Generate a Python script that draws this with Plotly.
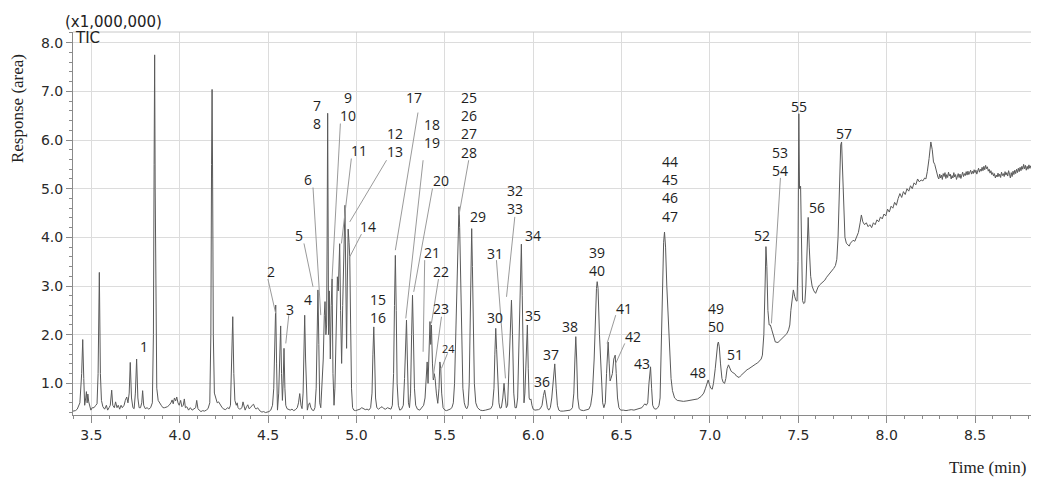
import plotly.graph_objects as go

# ---------------- data (time in min, response in x1,000,000) ----------------
seg_a = [(3.396,0.43),(3.41,0.44),(3.42,0.47),(3.435,0.6),(3.445,1.2),(3.451,1.90),(3.457,1.1),(3.462,0.55),
 (3.468,0.7),(3.472,0.83),(3.476,0.6),(3.48,0.78),(3.485,0.62),(3.49,0.55),(3.497,0.45),(3.505,0.5),(3.515,0.5),
 (3.525,0.55),(3.532,0.58),(3.538,1.2),(3.545,3.28),(3.551,1.2),(3.557,0.65),(3.565,0.52),(3.575,0.47),(3.585,0.55),
 (3.592,0.45),(3.60,0.5),(3.607,0.55),(3.615,0.86),(3.621,0.55),(3.63,0.5),(3.637,0.62),(3.645,0.5),(3.652,0.55),
 (3.66,0.47),(3.668,0.55),(3.675,0.5),(3.685,0.55),(3.692,0.65),(3.70,0.72),(3.707,0.6),(3.714,0.8),(3.72,1.43),
 (3.727,0.7),(3.735,0.5),(3.742,0.48),(3.749,0.8),(3.756,1.50),(3.763,0.7),(3.77,0.5),(3.778,0.5),(3.785,0.6),
 (3.79,0.85),(3.796,0.55),(3.805,0.48),(3.815,0.5),(3.825,0.47),(3.835,0.5),(3.845,0.6),(3.851,2.0),(3.855,5.5),
 (3.858,7.75),(3.861,5.0),(3.865,2.2),(3.87,0.9),(3.878,0.65),(3.885,0.6),(3.895,0.55),(3.905,0.5),(3.915,0.5)]

seg_b = [(3.93,0.52),(3.94,0.55),(3.95,0.6),(3.957,0.66),(3.963,0.58),(3.97,0.7),(3.977,0.64),(3.983,0.72),
 (3.99,0.6),(3.997,0.55),(4.005,0.65),(4.012,0.52),(4.02,0.55),(4.026,0.68),(4.032,0.5),(4.04,0.52),(4.05,0.45),
 (4.06,0.5),(4.07,0.45),(4.08,0.47),(4.09,0.5),(4.096,0.65),(4.103,0.48),(4.11,0.45),(4.12,0.42),(4.13,0.44),
 (4.14,0.43),(4.15,0.45),(4.16,0.48),(4.17,0.6),(4.176,2.0),(4.18,5.5),(4.183,7.04),(4.186,5.2),(4.19,2.0),
 (4.196,0.8),(4.205,0.65),(4.212,0.6),(4.22,0.62),(4.23,0.55),(4.24,0.5),(4.25,0.47),(4.26,0.46),(4.27,0.5),
 (4.28,0.48),(4.287,0.55),(4.293,1.2),(4.30,2.37),(4.306,1.2),(4.312,0.65),(4.32,0.55),(4.325,0.6),(4.33,0.5),
 (4.338,0.47),(4.345,0.48),(4.352,0.5),(4.358,0.62),(4.364,0.5),(4.37,0.45),(4.378,0.52),(4.385,0.56),(4.392,0.48),
 (4.40,0.5),(4.41,0.55),(4.418,0.57),(4.425,0.5),(4.433,0.47),(4.44,0.5),(4.448,0.45),(4.455,0.43),(4.465,0.41),
 (4.475,0.42),(4.485,0.4),(4.495,0.41),(4.505,0.42),(4.515,0.45),(4.525,0.55)]

seg_c = [(4.532,0.9),(4.538,2.3),(4.543,2.61),(4.548,1.4),(4.553,0.45),(4.56,0.8),(4.566,1.8),(4.571,2.18),
 (4.576,1.2),(4.581,0.65),(4.585,1.0),(4.590,1.72),(4.595,0.9),(4.60,0.55),(4.607,0.48),(4.615,0.47),(4.625,0.45),
 (4.635,0.47),(4.645,0.44),(4.655,0.46),(4.665,0.5),(4.672,0.6),(4.679,0.79),(4.686,0.55),(4.692,0.48),(4.698,0.8),
 (4.703,1.9),(4.707,2.40),(4.712,1.5),(4.717,0.6),(4.722,0.45),(4.728,0.55),(4.735,0.6),(4.742,0.5),(4.75,0.45),
 (4.758,0.44),(4.765,0.5),(4.772,0.9),(4.778,2.3),(4.782,2.92),(4.787,1.8),(4.792,0.6),(4.798,0.5),(4.805,0.9),
 (4.812,1.5),(4.818,2.4),(4.822,2.68),(4.827,2.0),(4.831,2.2),(4.834,4.0),(4.837,6.55),(4.840,4.0),(4.842,2.0),
 (4.846,2.9),(4.852,1.5),(4.857,2.6),(4.862,3.15),(4.867,1.2),(4.873,0.55),(4.878,0.9),(4.885,2.4),(4.892,3.19),
 (4.897,2.9),(4.901,3.5),(4.905,3.87),(4.91,2.5),(4.916,1.41),(4.922,2.6),(4.928,4.0),(4.935,4.66),(4.94,3.0),
 (4.944,1.72),(4.948,3.0),(4.953,4.17),(4.958,3.9),(4.962,3.6),(4.967,2.2),(4.972,0.9),(4.978,0.5),(4.985,0.45),
 (4.995,0.44)]

seg_d = [(5.01,0.45),(5.02,0.47),(5.03,0.5),(5.04,0.48),(5.05,0.46),(5.06,0.47),(5.07,0.45),(5.08,0.5),
 (5.088,0.8),(5.093,1.6),(5.098,2.16),(5.103,1.5),(5.108,0.7),(5.115,0.5),(5.125,0.47),(5.135,0.5),(5.145,0.52),
 (5.155,0.48),(5.165,0.47),(5.175,0.5),(5.185,0.48),(5.195,0.47),(5.203,0.55),(5.21,1.2),(5.215,2.6),(5.22,3.63),
 (5.225,2.5),(5.23,1.0),(5.237,0.55),(5.245,0.45),(5.255,0.47),(5.265,0.55),(5.272,1.1),(5.278,2.0),(5.283,2.3),
 (5.288,1.5),(5.294,0.6),(5.30,0.5),(5.306,0.8),(5.312,2.0),(5.317,2.81),(5.322,2.0),(5.328,0.9),(5.335,0.55),
 (5.345,0.47),(5.358,0.45),(5.37,0.5),(5.38,0.55),(5.388,0.7),(5.395,1.1),(5.40,1.44),(5.405,1.0),(5.41,1.5),
 (5.416,2.27),(5.42,1.8),(5.424,2.2),(5.43,1.4),(5.435,1.07),(5.44,1.2),(5.445,1.1),(5.452,0.8),(5.46,0.59),
 (5.467,0.9),(5.472,1.44),(5.477,1.3),(5.482,0.8),(5.49,0.5),(5.50,0.45),(5.51,0.44),(5.52,0.45),(5.53,0.47),
 (5.54,0.5),(5.548,0.6),(5.555,1.0),(5.562,2.0),(5.567,3.2),(5.572,3.8),(5.577,4.4),(5.58,4.63),(5.584,4.2),
 (5.59,3.0),(5.596,1.6),(5.602,0.9),(5.61,0.6),(5.618,0.5),(5.625,0.48),(5.632,0.55),(5.638,1.0),(5.644,2.3),
 (5.648,3.5),(5.652,4.18),(5.656,3.4),(5.661,2.0),(5.667,1.0),(5.675,0.6),(5.685,0.5),(5.70,0.45),(5.715,0.44),
 (5.73,0.45),(5.745,0.46),(5.76,0.48),(5.77,0.55),(5.778,0.9),(5.783,1.6),(5.788,2.13),(5.793,1.7),(5.80,0.9),
 (5.806,0.6),(5.812,0.49)]

seg_e = [(5.82,0.5),(5.828,0.7),(5.835,1.0),(5.842,0.7),(5.848,0.5),(5.855,0.55),(5.862,1.2),(5.87,2.3),
 (5.877,2.71),(5.883,2.0),(5.89,0.8),(5.897,0.5),(5.905,0.5),(5.912,0.7),(5.92,1.8),(5.927,3.3),(5.933,3.86),
 (5.938,2.8),(5.943,1.2),(5.948,0.6),(5.953,0.8),(5.96,1.7),(5.967,2.2),(5.972,1.3),(5.977,0.7),(5.982,0.66),
 (5.987,0.68),(5.993,0.55),(6.0,0.47),(6.01,0.45),(6.02,0.45),(6.03,0.46),(6.04,0.48),(6.05,0.55),(6.058,0.75),
 (6.065,0.86),(6.072,0.7),(6.08,0.5),(6.088,0.45),(6.097,0.5),(6.105,0.7),(6.113,1.1),(6.122,1.40),(6.13,0.9),
 (6.137,0.55),(6.145,0.45),(6.155,0.43),(6.17,0.43),(6.185,0.44),(6.2,0.44),(6.21,0.45),(6.222,0.5),(6.23,0.8),
 (6.236,1.5),(6.241,1.96),(6.246,1.5),(6.252,0.7),(6.26,0.48),(6.27,0.45),(6.285,0.44),(6.30,0.45),(6.315,0.47),
 (6.325,0.55),(6.335,0.8),(6.345,1.5),(6.353,2.5),(6.358,2.95),(6.362,3.09),(6.367,2.95),(6.375,2.0),(6.385,1.0),
 (6.393,0.6),(6.40,0.5),(6.408,0.6),(6.415,1.2),(6.42,1.8),(6.424,1.85),(6.43,1.4),(6.435,1.05),(6.44,1.1),
 (6.448,1.2),(6.456,1.5),(6.464,1.58),(6.47,1.2),(6.477,0.7),(6.485,0.5),(6.495,0.45),(6.51,0.45),(6.525,0.44),
 (6.54,0.45),(6.555,0.46),(6.57,0.45),(6.585,0.47),(6.60,0.48),(6.615,0.5),(6.625,0.55),(6.632,0.58),(6.64,0.55),
 (6.648,0.6),(6.655,1.0),(6.66,1.3),(6.664,1.34),(6.67,0.9),(6.676,0.55),(6.685,0.48),(6.695,0.47),(6.705,0.5),
 (6.712,0.55),(6.718,0.7),(6.722,1.3),(6.726,2.1),(6.732,3.2),(6.738,3.9),(6.743,4.11),(6.749,3.8),(6.756,3.0),
 (6.764,2.4),(6.772,1.6),(6.78,1.1),(6.788,0.85),(6.80,0.7),(6.815,0.65)]

seg_f = [(6.83,0.64),(6.85,0.63),(6.87,0.64),(6.89,0.65),(6.91,0.66),(6.93,0.68),(6.95,0.73),(6.965,0.8),
 (6.975,0.9),(6.983,1.0),(6.99,1.07),(6.997,0.98),(7.005,0.9),(7.013,0.88),(7.02,1.0),(7.03,1.3),(7.038,1.65),
 (7.044,1.82),(7.048,1.85),(7.053,1.75),(7.06,1.4),(7.068,1.1),(7.075,1.02),(7.083,1.0),(7.09,1.1),(7.097,1.3),
 (7.105,1.38),(7.112,1.3),(7.12,1.25),(7.13,1.22),(7.14,1.2),(7.15,1.15),(7.158,1.13),(7.165,1.12),(7.172,1.15),
 (7.18,1.18),(7.19,1.2),(7.2,1.25),(7.21,1.28),(7.22,1.3),(7.23,1.33),(7.24,1.35),(7.25,1.38),(7.26,1.40),
 (7.27,1.42),(7.28,1.45),(7.29,1.5),(7.297,1.58),(7.305,2.0),(7.312,3.0),(7.317,3.81),(7.322,3.4),(7.328,2.5),
 (7.335,2.2),(7.342,2.2),(7.35,2.1),(7.36,1.95),(7.37,1.85),(7.385,1.84),(7.395,1.88),(7.405,1.92),(7.415,1.95),
 (7.425,1.98),(7.435,2.02),(7.445,2.1),(7.452,2.2),(7.458,2.5),(7.465,2.8),(7.472,2.92),(7.48,2.78),(7.487,2.7),
 (7.493,2.69),(7.498,3.5),(7.503,6.54),(7.507,5.0),(7.513,5.05),(7.518,4.0),(7.524,2.7),(7.53,2.64),(7.537,2.66),
 (7.543,3.0),(7.55,4.0),(7.556,4.41),(7.562,3.8),(7.57,3.2),(7.578,3.0),(7.588,2.9),(7.598,2.85),(7.605,2.92),
 (7.612,2.98),(7.62,3.02),(7.63,3.05),(7.64,3.1),(7.65,3.12),(7.66,3.18),(7.67,3.22),(7.68,3.28),(7.69,3.32),
 (7.70,3.36),(7.71,3.42),(7.718,3.55),(7.725,4.0),(7.733,5.0),(7.74,5.9),(7.745,5.96),(7.75,5.5),(7.757,4.6),
 (7.764,4.0),(7.772,3.88),(7.78,3.84),(7.788,3.82),(7.795,3.88)]

seg_g = [(7.80,3.90),(7.81,3.94),(7.82,3.92),(7.83,4.02),(7.84,4.10),(7.85,4.30),(7.857,4.46),(7.865,4.32),
 (7.875,4.26),(7.885,4.30),(7.895,4.22),(7.905,4.26),(7.915,4.20),(7.925,4.30),(7.935,4.26),(7.945,4.36),
 (7.955,4.32),(7.965,4.42),(7.975,4.38),(7.985,4.48),(7.995,4.44),(8.005,4.58),(8.015,4.52),(8.025,4.64),
 (8.035,4.60),(8.045,4.72),(8.055,4.66),(8.065,4.80),(8.075,4.90),(8.085,4.82),(8.095,4.94),(8.105,4.88),
 (8.115,5.00),(8.125,4.95),(8.135,5.06),(8.145,5.00),(8.155,5.12),(8.165,5.08),(8.175,5.20),(8.185,5.14),
 (8.195,5.18),(8.205,5.16),(8.215,5.22),(8.222,5.20),(8.23,5.35),(8.24,5.62),(8.25,5.96),(8.258,5.80),
 (8.265,5.55),(8.272,5.50),(8.28,5.38),(8.285,5.28)]

seg_h = [(8.290,5.24),(8.295,5.20),(8.300,5.30),(8.305,5.22),(8.310,5.28),(8.315,5.19),(8.320,5.31),(8.325,5.25),
 (8.330,5.33),(8.335,5.21),(8.340,5.29),(8.345,5.23),(8.350,5.34),(8.355,5.26),(8.360,5.30),(8.365,5.20),
 (8.370,5.27),(8.375,5.22),(8.380,5.33),(8.385,5.24),(8.390,5.29),(8.395,5.19),(8.400,5.26),(8.405,5.31),
 (8.410,5.23),(8.415,5.30),(8.420,5.21),(8.425,5.28),(8.430,5.34),(8.435,5.25),(8.440,5.31),(8.445,5.27),
 (8.450,5.35),(8.455,5.28),(8.460,5.36),(8.465,5.29),(8.470,5.33),(8.475,5.38),(8.480,5.30),(8.485,5.36),
 (8.490,5.31),(8.495,5.39),(8.500,5.33),(8.505,5.38),(8.510,5.30),(8.515,5.37),(8.520,5.42),(8.525,5.34),
 (8.530,5.40),(8.535,5.36),(8.540,5.44),(8.545,5.37),(8.550,5.46),(8.555,5.39),(8.560,5.48),(8.565,5.41),
 (8.570,5.45),(8.575,5.36),(8.580,5.40),(8.585,5.32),(8.590,5.37),(8.595,5.29),(8.600,5.33),(8.605,5.26),
 (8.610,5.31),(8.615,5.22),(8.620,5.28),(8.625,5.24),(8.630,5.32),(8.635,5.25),(8.640,5.30),(8.645,5.23),
 (8.650,5.34),(8.655,5.27),(8.660,5.31),(8.665,5.25),(8.670,5.35),(8.675,5.28),(8.680,5.33),(8.685,5.26),
 (8.690,5.37),(8.695,5.30),(8.700,5.22),(8.705,5.33),(8.710,5.25),(8.715,5.36),(8.720,5.29),(8.725,5.38),
 (8.730,5.31),(8.735,5.40),(8.740,5.33),(8.745,5.42),(8.750,5.35),(8.755,5.44),(8.760,5.37),(8.765,5.46),
 (8.770,5.40),(8.775,5.50),(8.780,5.41),(8.785,5.48),(8.790,5.38),(8.795,5.46),(8.800,5.40),(8.805,5.49),
 (8.810,5.42),(8.815,5.47),(8.820,5.39),(8.825,5.45),(8.830,5.41),(8.835,5.50),(8.840,5.43),(8.845,5.48),
 (8.850,5.40),(8.855,5.46),(8.860,5.44)]

peak_labels = [str(i) for i in range(1, 58)]
x_tick_values = [3.5, 4.0, 4.5, 5.0, 5.5, 6.0, 6.5, 7.0, 7.5, 8.0, 8.5]
x_tick_labels = ["3.5", "4.0", "4.5", "5.0", "5.5", "6.0", "6.5", "7.0", "7.5", "8.0", "8.5"]
y_tick_values = [1, 2, 3, 4, 5, 6, 7, 8]
y_tick_labels = ["1.0", "2.0", "3.0", "4.0", "5.0", "6.0", "7.0", "8.0"]

# ---------------- layout helpers: label groups (peak numbers) with anchor positions ----------------
label_groups = [([1],(3.796,1.766)),([2],(4.519,3.306)),([3],(4.622,2.526)),([4],(4.726,2.731)),
 ([5],(4.675,4.045)),([6],(4.726,5.189)),([7,8],(4.779,6.517)),([9,10],(4.950,6.691)),([11],(5.013,5.776)),
 ([12,13],(5.220,5.958)),([14],(5.065,4.230)),([15,16],(5.119,2.539)),([17],(5.326,6.873)),
 ([18,19],(5.430,6.132)),([20],(5.481,5.175)),([21],(5.430,3.682)),([22],(5.481,3.306)),([23],(5.481,2.540)),
 ([24],(5.520,1.719)),([25,26,27,28],(5.635,6.315)),([29],(5.688,4.421)),([30],(5.782,2.347)),
 ([31],(5.782,3.669)),([32,33],(5.896,4.778)),([34],(5.999,4.031)),([35],(5.996,2.402)),([36],(6.052,1.033)),
 ([37],(6.103,1.595)),([38],(6.207,2.162)),([39,40],(6.361,3.494)),([41],(6.514,2.540)),([42],(6.565,1.971)),
 ([43],(6.618,1.411)),([44,45,46,47],(6.773,4.993)),([48],(6.930,1.226)),([49,50],(7.037,2.351)),
 ([51],(7.141,1.595)),([52],(7.292,4.031)),([53,54],(7.399,5.561)),([55],(7.503,6.680)),([56],(7.606,4.606)),
 ([57],(7.759,6.133))]

leaders = [((4.499,3.142),(4.543,2.437)),((4.617,2.402),(4.600,1.821)),((4.703,3.875),(4.754,2.984)),
 ((4.754,5.025),(4.798,2.402)),((4.909,6.339),(4.862,3.156)),((4.971,5.620),(4.915,3.875)),
 ((5.170,5.585),(4.962,4.318)),((5.028,4.066),(4.962,3.600)),((5.348,6.565),(5.220,3.737)),
 ((5.377,5.585),(5.279,2.335)),((5.430,5.004),(5.324,2.881)),((5.386,3.532),(5.377,1.649)),
 ((5.464,3.142),(5.424,2.232)),((5.481,2.368),(5.433,1.103)),((5.515,1.616),(5.481,1.308)),
 ((5.635,5.585),(5.580,4.456)),((5.792,3.532),(5.843,1.103)),((5.896,4.421),(5.849,2.778)),
 ((6.467,2.402),(6.418,1.821)),((6.518,1.821),(6.467,1.411)),((7.399,5.222),(7.348,2.232))]

points = seg_a + seg_b + seg_c + seg_d + seg_e + seg_f + seg_g + seg_h
time_min = [p[0] for p in points]
response = [p[1] for p in points]

fig = go.Figure()
fig.add_trace(go.Scatter(x=time_min, y=response, mode="lines",
                         line=dict(color="#5a5a5a", width=1), hoverinfo="skip"))

AX = "#8a8a8a"
GRID = "#dcdcdc"
TICKFONT = dict(family="DejaVu Sans", size=14, color="#2a2a2a")

fig.update_xaxes(range=[3.396, 8.862], tickmode="array", tickvals=x_tick_values, ticktext=x_tick_labels,
                 ticks="outside", ticklen=7, tickcolor=AX, showline=True, linecolor=AX, linewidth=1,
                 showgrid=True, gridcolor=GRID, gridwidth=1, zeroline=False, tickfont=TICKFONT,
                 minor=dict(dtick=0.1, tick0=3.4, ticks="outside", ticklen=3, tickcolor=AX, showgrid=False))
fig.update_yaxes(range=[0.35, 8.22], tickmode="array", tickvals=y_tick_values, ticktext=y_tick_labels,
                 ticks="outside", ticklen=6, tickcolor=AX, showline=True, linecolor=AX, linewidth=1,
                 showgrid=True, gridcolor=GRID, gridwidth=1, zeroline=False, tickfont=TICKFONT,
                 minor=dict(dtick=0.2, tick0=0.2, ticks="outside", ticklen=3, tickcolor=AX, showgrid=False))

shapes = [dict(type="line", xref="paper", yref="paper", x0=0, x1=1, y0=1, y1=1,
               line=dict(color="#c8c8c8", width=1))]
for (a, b) in leaders:
    shapes.append(dict(type="line", xref="x", yref="y", x0=a[0], y0=a[1], x1=b[0], y1=b[1],
                       line=dict(color="#9a9a9a", width=1)))

annotations = []
for nums, (lx, ly) in label_groups:
    txt = "<br>".join(peak_labels[n - 1] for n in nums)
    annotations.append(dict(x=lx, y=ly, xref="x", yref="y", text=txt, showarrow=False,
                            xanchor="center", yanchor="middle", align="center",
                            font=dict(family="Open Sans", size=11 if nums == [24] else 14, color="#1e1e1e")))

annotations += [
    dict(x=-0.0569, y=0.799, xref="paper", yref="paper", text="Response (area)", textangle=-90,
         showarrow=False, xanchor="center", yanchor="middle",
         font=dict(family="Liberation Serif", size=17, color="#222")),
    dict(x=0.947, y=-0.138, xref="paper", yref="paper", text="Time (min)", showarrow=False,
         xanchor="center", yanchor="middle", font=dict(family="Liberation Serif", size=17, color="#222")),
    dict(x=0.0424, y=1.0274, xref="paper", yref="paper", text="(x1,000,000)", showarrow=False,
         xanchor="center", yanchor="middle", font=dict(family="DejaVu Sans", size=15, color="#222")),
    dict(x=0.0145, y=0.984, xref="paper", yref="paper", text="TIC", showarrow=False,
         xanchor="center", yanchor="middle", font=dict(family="DejaVu Sans", size=15, color="#222")),
]

# the page body has an 8px default margin, so the figure is sized/margined to land the plot area at
# x 73..1039, y 32..415 in the 1039x477 window
fig.update_layout(width=1031, height=469, autosize=False,
                  margin=dict(l=65, r=0, t=24, b=62, pad=0),
                  plot_bgcolor="white", paper_bgcolor="white", showlegend=False,
                  shapes=shapes, annotations=annotations)

fig.write_html("out.html")
